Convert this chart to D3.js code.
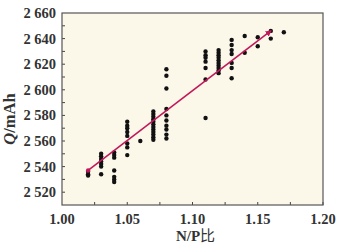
<!DOCTYPE html>
<html lang="zh">
  <head>
    <meta charset="UTF-8" />
    <title>N/P ratio vs capacity</title>
    <script src="https://d3js.org/d3.v7.min.js"></script>
    <style>
      body { margin: 0; background: #fff; }
      .tick-label {
        font-family: "Liberation Serif", "Times New Roman", serif;
        font-weight: bold;
        font-size: 14.5px;
        fill: #333;
      }
      .axis-title {
        font-family: "Liberation Serif", "Times New Roman", serif;
        font-weight: bold;
        fill: #333;
      }
    </style>
  </head>
  <body>
    <svg width="342" height="245"></svg>
    <script>
      // N/P ratio columns and the measured capacities (mAh) in each column
      const npRatio = [1.02, 1.03, 1.04, 1.05, 1.06, 1.07, 1.08, 1.11, 1.12, 1.13, 1.14, 1.15, 1.16, 1.17];
      const capacity = [
        [2536, 2534, 2533],
        [2550, 2548, 2546, 2544, 2542, 2540, 2534],
        [2551, 2549, 2547, 2537, 2532, 2530, 2528],
        [2575, 2572, 2570, 2567, 2564, 2558, 2555, 2549],
        [2560],
        [2583, 2581, 2579, 2577, 2575, 2573, 2571, 2569, 2567, 2565, 2563, 2561],
        [2616, 2611, 2601, 2585, 2580, 2576, 2572, 2569, 2565, 2562],
        [2630, 2627, 2625, 2622, 2617, 2608, 2578],
        [2631, 2629, 2627, 2625, 2623, 2621, 2619, 2617, 2615, 2613],
        [2639, 2635, 2631, 2628, 2621, 2617, 2609],
        [2642, 2629],
        [2641, 2634],
        [2646, 2640],
        [2645]
      ];
      // linear fit end points
      const fitX = [1.02, 1.16];
      const fitQ = [2537, 2646];

      const xTicks = [1.0, 1.05, 1.1, 1.15, 1.2];
      const yTicks = [2520, 2540, 2560, 2580, 2600, 2620, 2640, 2660];

      const width = 342, height = 245;
      const margin = { top: 13, right: 19, bottom: 40, left: 62 };
      const svg = d3.select("svg");

      const x = d3.scaleLinear().domain([1.0, 1.2]).range([margin.left, width - margin.right]);
      const y = d3.scaleLinear().domain([2510, 2660]).range([height - margin.bottom, margin.top]);

      const fmt = d3.formatLocale({ decimal: ".", thousands: " ", grouping: [3], currency: ["", ""] }).format(",");

      // plot background
      svg.append("rect")
        .attr("x", margin.left).attr("y", margin.top)
        .attr("width", x.range()[1] - x.range()[0])
        .attr("height", y.range()[0] - y.range()[1])
        .attr("fill", "#fcf8e9");

      // inner ticks
      const ticks = svg.append("g").attr("stroke", "#444").attr("stroke-width", 1);
      ticks.selectAll(".xt")
        .data(d3.range(1.025, 1.2, 0.025))
        .join("line")
        .attr("x1", d => x(d)).attr("x2", d => x(d))
        .attr("y1", y.range()[0]).attr("y2", y.range()[0] - 3);
      ticks.selectAll(".yt")
        .data(d3.range(2520, 2660, 10))
        .join("line")
        .attr("x1", margin.left).attr("x2", margin.left + 3)
        .attr("y1", d => y(d)).attr("y2", d => y(d));

      // tick labels
      svg.append("g").selectAll("text")
        .data(xTicks)
        .join("text")
        .attr("class", "tick-label")
        .attr("x", d => x(d))
        .attr("y", height - margin.bottom + 19)
        .attr("text-anchor", "middle")
        .text(d => d.toFixed(2));
      svg.append("g").selectAll("text")
        .data(yTicks)
        .join("text")
        .attr("class", "tick-label")
        .attr("x", margin.left - 6)
        .attr("y", d => y(d))
        .attr("dy", "0.35em")
        .attr("text-anchor", "end")
        .text(d => fmt(d));

      // points
      const points = npRatio.flatMap((r, i) => capacity[i].map(q => ({ r, q })));
      svg.append("g").selectAll("circle")
        .data(points)
        .join("circle")
        .attr("cx", d => x(d.r))
        .attr("cy", d => y(d.q))
        .attr("r", 2.2)
        .attr("fill", "#111");

      // fit line
      svg.append("defs").append("marker")
        .attr("id", "arrow")
        .attr("viewBox", "0 0 10 10")
        .attr("refX", 8).attr("refY", 5)
        .attr("markerWidth", 4).attr("markerHeight", 4)
        .attr("orient", "auto")
        .append("path").attr("d", "M0,0L10,5L0,10z").attr("fill", "#c2185b");
      svg.append("line")
        .attr("x1", x(fitX[0])).attr("y1", y(fitQ[0]))
        .attr("x2", x(fitX[1])).attr("y2", y(fitQ[1]))
        .attr("stroke", "#c2185b").attr("stroke-width", 1.6)
        .attr("marker-end", "url(#arrow)");
      svg.append("circle")
        .attr("cx", x(fitX[0])).attr("cy", y(fitQ[0]))
        .attr("r", 2.2).attr("fill", "#c2185b");

      // frame
      svg.append("rect")
        .attr("x", margin.left).attr("y", margin.top)
        .attr("width", x.range()[1] - x.range()[0])
        .attr("height", y.range()[0] - y.range()[1])
        .attr("fill", "none").attr("stroke", "#555").attr("stroke-width", 1.2);

      // axis titles
      const xt = svg.append("text")
        .attr("class", "axis-title")
        .attr("x", (x.range()[0] + x.range()[1]) / 2 + 3)
        .attr("y", height - 4)
        .attr("text-anchor", "middle")
        .style("font-size", "15px");
      xt.append("tspan").text("N/P");
      xt.append("tspan").style("font-family", "'Noto Sans CJK SC'").style("font-weight", "normal").text("比");

      const yt = svg.append("text")
        .attr("class", "axis-title")
        .attr("transform", `translate(15,${(y.range()[0] + y.range()[1]) / 2 + 10}) rotate(-90)`)
        .attr("text-anchor", "middle")
        .style("font-size", "16.5px");
      yt.append("tspan").style("font-style", "italic").text("Q");
      yt.append("tspan").text("/mAh");
    </script>
  </body>
</html>
